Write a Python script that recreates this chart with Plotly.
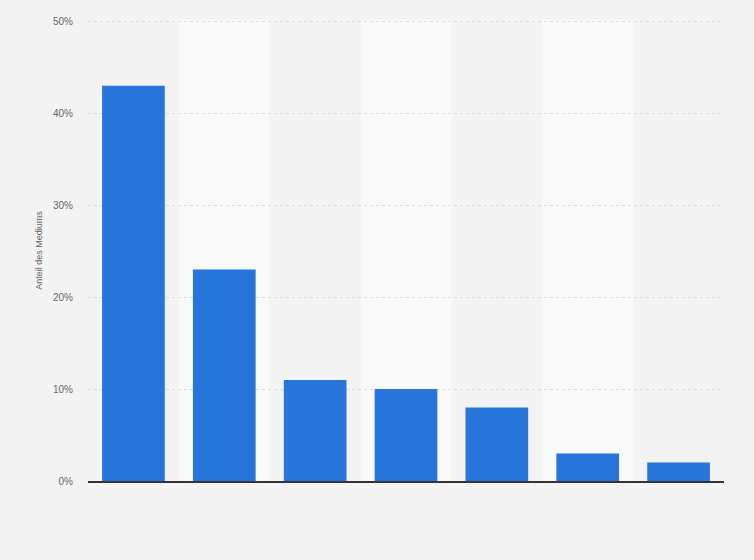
import plotly.graph_objects as go

# Shares per medium (labels are not shown in the chart)
categories = ["Medium 1", "Medium 2", "Medium 3", "Medium 4", "Medium 5", "Medium 6", "Medium 7"]
values = [43, 23, 11, 10, 8, 3, 2]
y_ticks = [0, 10, 20, 30, 40, 50]
y_tick_labels = ["0%", "10%", "20%", "30%", "40%", "50%"]

fig = go.Figure(go.Bar(
    x=categories,
    y=values,
    marker=dict(color="#2775db", line=dict(width=0)),
    width=0.69,
    hoverinfo="x+y",
))

# alternating lighter column bands
shapes = []
for i in range(1, len(categories), 2):
    shapes.append(dict(
        type="rect", xref="x", yref="paper",
        x0=i - 0.5, x1=i + 0.5, y0=0, y1=1,
        fillcolor="#f9f9f9", line=dict(width=0), layer="below",
    ))

fig.update_layout(
    width=754, height=560,
    margin=dict(l=88, r=30, t=20, b=79),
    paper_bgcolor="#f3f3f3",
    plot_bgcolor="#f3f3f3",
    shapes=shapes,
    showlegend=False,
    font=dict(family="Liberation Sans, Arial, sans-serif", color="#666666"),
    xaxis=dict(
        showticklabels=False, showgrid=False, zeroline=False,
        showline=True, linecolor="#333333", linewidth=1.5,
        range=[-0.5, len(categories) - 0.5],
    ),
    yaxis=dict(
        range=[0, 50.15], tickvals=y_ticks, ticktext=y_tick_labels,
        tickfont=dict(size=10, color="#666666"),
        ticklabelstandoff=14,
        showgrid=True, gridcolor="#dcdcdc", griddash="dot", gridwidth=1,
        zeroline=False, showline=False, ticks="",
        title=dict(text="Anteil des Mediums", font=dict(size=9, color="#666666"), standoff=8),
    ),
    bargap=0.31,
)

fig.write_html("out.html", config={"displayModeBar": False},
               post_script="document.body.style.margin='0';")
